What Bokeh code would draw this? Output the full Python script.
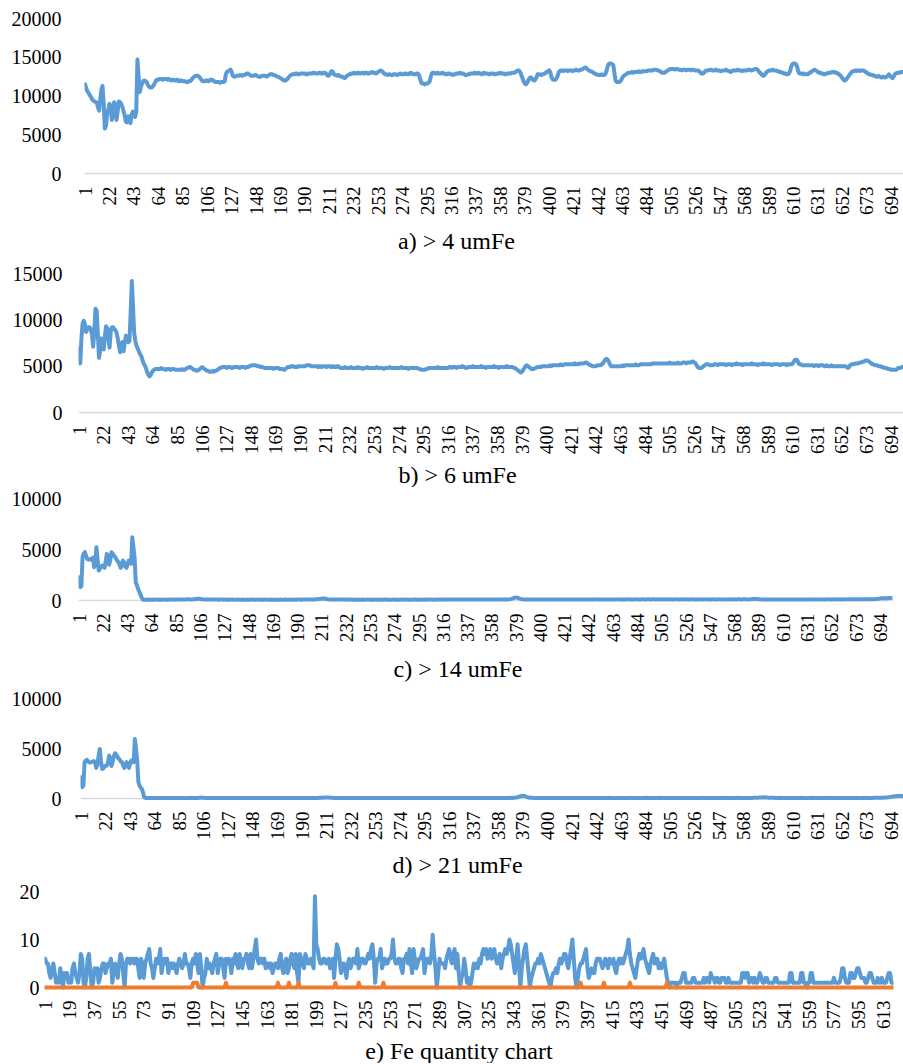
import math
from bokeh.plotting import figure
from bokeh.layouts import column
from bokeh.models import FixedTicker, Range1d, Span, NumeralTickFormatter
from bokeh.core.properties import value
from bokeh.embed import file_html
from bokeh.resources import INLINE

# ---------------- data ----------------
# a) > 4 umFe  (values in hundreds)
a_hundreds = [
    115, 110, 106, 104, 101, 99, 96, 94, 93, 92,
    92, 86, 81, 95, 108, 113, 90, 58, 62, 78,
    82, 90, 86, 69, 78, 92, 85, 69, 80, 93,
    92, 90, 86, 81, 75, 67, 66, 74, 70, 65,
    76, 80, 75, 73, 80, 147, 125, 105, 112, 116,
    119, 120, 119, 118, 114, 112, 111, 111, 112, 114,
    117, 120, 121, 121, 122, 122, 122, 121, 122, 122,
    122, 121, 122, 121, 120, 121, 121, 120, 120, 121,
    120, 119, 120, 120, 119, 119, 119, 118, 118, 119,
    119, 120, 122, 124, 125, 126, 126, 126, 125, 123,
    121, 119, 119, 119, 120, 120, 119, 120, 121, 121,
    120, 119, 118, 118, 118, 118, 117, 118, 118, 118,
    119, 128, 131, 132, 133, 134, 131, 126, 125, 125,
    126, 126, 126, 127, 127, 126, 127, 127, 128, 129,
    129, 128, 127, 126, 126, 126, 127, 127, 126, 125,
    125, 125, 126, 126, 126, 126, 125, 126, 127, 128,
    128, 128, 127, 127, 126, 125, 125, 124, 123, 122,
    121, 120, 120, 121, 122, 124, 126, 127, 128, 128,
    128, 129, 129, 128, 128, 129, 129, 129, 129, 129,
    128, 128, 129, 129, 129, 129, 130, 130, 129, 129,
    129, 130, 130, 129, 129, 130, 130, 129, 127, 126,
    127, 130, 132, 131, 128, 127, 127, 126, 127, 126,
    125, 125, 124, 123, 124, 126, 127, 128, 128, 129,
    129, 130, 129, 129, 130, 130, 129, 129, 130, 130,
    129, 130, 130, 129, 129, 130, 130, 131, 130, 130,
    129, 130, 131, 132, 133, 132, 131, 129, 128, 128,
    127, 128, 128, 127, 127, 128, 128, 128, 127, 128,
    128, 129, 128, 128, 128, 129, 129, 128, 128, 129,
    130, 129, 128, 128, 128, 129, 129, 127, 122, 117,
    116, 116, 115, 116, 116, 117, 118, 124, 129, 130,
    130, 129, 129, 130, 129, 129, 129, 130, 129, 129,
    128, 128, 129, 129, 128, 128, 127, 128, 128, 129,
    129, 129, 130, 129, 129, 129, 128, 127, 127, 128,
    128, 129, 129, 129, 129, 130, 129, 129, 130, 129,
    129, 128, 129, 130, 129, 129, 129, 128, 128, 129,
    129, 129, 128, 128, 129, 129, 129, 130, 129, 129,
    129, 128, 128, 129, 129, 129, 129, 130, 130, 130,
    131, 132, 133, 133, 131, 127, 123, 119, 116, 115,
    117, 120, 123, 124, 123, 121, 120, 121, 124, 128,
    128, 128, 127, 128, 128, 129, 130, 131, 132, 133,
    130, 124, 121, 121, 121, 122, 125, 130, 132, 133,
    133, 132, 133, 133, 133, 132, 133, 133, 133, 132,
    133, 133, 134, 133, 133, 133, 134, 134, 135, 136,
    137, 136, 134, 133, 132, 132, 131, 130, 129, 128,
    128, 127, 127, 127, 128, 127, 127, 128, 131, 137,
    141, 142, 142, 141, 140, 130, 120, 118, 118, 118,
    119, 121, 124, 126, 127, 128, 129, 130, 130, 130,
    131, 130, 131, 131, 131, 131, 132, 131, 131, 132,
    132, 132, 132, 132, 133, 133, 133, 133, 133, 134,
    134, 134, 133, 133, 132, 131, 130, 130, 130, 131,
    132, 133, 134, 135, 135, 135, 135, 134, 135, 135,
    134, 134, 134, 133, 134, 134, 134, 133, 134, 134,
    134, 133, 134, 134, 133, 133, 133, 133, 132, 130,
    129, 129, 130, 132, 133, 133, 133, 134, 134, 133,
    133, 133, 134, 133, 133, 133, 132, 132, 133, 133,
    133, 134, 133, 132, 132, 131, 132, 133, 133, 133,
    133, 134, 133, 133, 133, 132, 133, 133, 133, 133,
    134, 134, 133, 133, 134, 134, 135, 135, 134, 132,
    130, 129, 127, 126, 127, 129, 131, 132, 133, 133,
    133, 134, 133, 133, 133, 132, 132, 131, 131, 130,
    130, 129, 129, 128, 128, 129, 132, 138, 141, 142,
    142, 141, 138, 132, 129, 129, 129, 128, 129, 128,
    128, 128, 129, 130, 131, 132, 133, 134, 133, 132,
    131, 130, 130, 129, 129, 128, 128, 129, 129, 130,
    130, 130, 131, 131, 131, 130, 130, 129, 128, 127,
    125, 123, 121, 120, 121, 123, 125, 127, 129, 131,
    132, 132, 133, 132, 133, 133, 132, 133, 133, 133,
    132, 131, 130, 129, 128, 128, 127, 127, 126, 126,
    125, 125, 126, 125, 124, 124, 125, 124, 124, 125,
    126, 128, 126, 124, 123, 125, 128, 129, 130, 130,
    130, 131, 131, 131,
]

# b) > 6 umFe  (values in hundreds)
b_hundreds = [
    69, 53, 80, 96, 99, 95, 87, 90, 92, 92,
    90, 84, 71, 88, 112, 110, 85, 59, 67, 80,
    72, 68, 82, 93, 91, 80, 70, 87, 92, 92,
    90, 89, 86, 80, 72, 65, 74, 76, 66, 75,
    83, 80, 76, 77, 108, 142, 115, 86, 77, 72,
    69, 66, 63, 61, 57, 53, 51, 48, 44, 41,
    39, 40, 43, 45, 46, 47, 47, 47, 47, 47,
    48, 47, 47, 47, 46, 47, 47, 47, 46, 47,
    47, 47, 46, 46, 46, 46, 46, 46, 47, 46,
    46, 47, 48, 48, 49, 49, 48, 47, 46, 46,
    45, 45, 46, 47, 48, 49, 48, 47, 46, 45,
    45, 44, 44, 44, 45, 44, 45, 45, 46, 47,
    48, 48, 49, 49, 49, 49, 48, 49, 49, 49,
    48, 48, 49, 49, 49, 49, 49, 48, 49, 49,
    49, 49, 48, 49, 49, 50, 50, 51, 51, 51,
    51, 51, 50, 50, 50, 49, 49, 49, 48, 48,
    48, 48, 48, 48, 48, 48, 47, 48, 48, 48,
    48, 47, 47, 47, 47, 46, 47, 48, 49, 49,
    49, 50, 50, 50, 49, 49, 49, 50, 50, 50,
    50, 50, 50, 50, 51, 51, 51, 51, 50, 50,
    50, 50, 50, 50, 49, 50, 50, 49, 50, 50,
    50, 49, 50, 50, 50, 49, 50, 50, 49, 49,
    50, 50, 49, 48, 48, 48, 48, 49, 48, 48,
    48, 48, 49, 48, 48, 48, 48, 48, 49, 48,
    48, 48, 47, 48, 48, 48, 49, 48, 48, 48,
    48, 48, 48, 48, 49, 48, 48, 48, 48, 48,
    47, 48, 48, 48, 48, 49, 48, 48, 48, 48,
    48, 48, 48, 48, 48, 49, 48, 48, 48, 48,
    48, 47, 48, 48, 48, 48, 48, 48, 48, 48,
    47, 47, 46, 46, 46, 46, 47, 47, 48, 48,
    48, 48, 48, 48, 48, 48, 49, 48, 48, 48,
    48, 48, 48, 48, 48, 48, 49, 49, 48, 49,
    49, 49, 48, 49, 49, 49, 49, 50, 49, 49,
    48, 48, 49, 49, 49, 49, 50, 49, 49, 49,
    49, 49, 49, 50, 49, 49, 49, 48, 49, 49,
    49, 49, 49, 49, 50, 49, 49, 49, 48, 49,
    49, 49, 49, 49, 49, 50, 49, 49, 49, 49,
    49, 48, 48, 47, 46, 45, 44, 43, 44, 46,
    48, 50, 51, 50, 49, 48, 47, 47, 47, 48,
    48, 49, 49, 49, 49, 50, 50, 50, 50, 50,
    50, 50, 51, 50, 51, 51, 51, 51, 51, 51,
    51, 52, 51, 51, 52, 52, 52, 52, 52, 52,
    52, 52, 52, 53, 52, 52, 52, 53, 53, 53,
    53, 53, 54, 54, 53, 52, 51, 51, 50, 50,
    50, 50, 51, 51, 51, 51, 52, 53, 55, 57,
    58, 57, 55, 52, 50, 50, 50, 50, 50, 50,
    50, 50, 50, 50, 51, 50, 51, 51, 51, 51,
    51, 51, 51, 51, 51, 52, 51, 51, 51, 52,
    52, 52, 52, 52, 52, 52, 52, 52, 52, 53,
    53, 53, 53, 53, 53, 53, 53, 53, 53, 53,
    53, 53, 53, 53, 54, 53, 53, 53, 53, 53,
    53, 54, 53, 53, 53, 54, 54, 54, 53, 54,
    54, 54, 54, 55, 55, 54, 53, 51, 49, 48,
    48, 48, 49, 50, 51, 52, 52, 52, 51, 51,
    51, 51, 52, 52, 52, 51, 52, 52, 52, 52,
    52, 52, 51, 52, 52, 52, 52, 51, 52, 52,
    52, 53, 52, 52, 52, 52, 51, 52, 52, 52,
    52, 52, 52, 52, 53, 52, 52, 52, 52, 51,
    52, 52, 52, 52, 53, 52, 52, 52, 52, 52,
    52, 51, 52, 52, 52, 52, 52, 52, 51, 52,
    52, 52, 52, 52, 51, 52, 52, 52, 52, 53,
    55, 57, 57, 56, 53, 52, 52, 51, 51, 51,
    51, 51, 51, 51, 51, 51, 51, 50, 51, 51,
    51, 50, 51, 51, 51, 51, 50, 50, 51, 50,
    50, 50, 51, 50, 50, 50, 50, 50, 50, 50,
    50, 50, 50, 50, 50, 49, 48, 49, 51, 52,
    52, 52, 53, 53, 53, 53, 54, 54, 54, 55,
    55, 56, 56, 56, 55, 54, 53, 52, 52, 51,
    51, 51, 50, 50, 50, 49, 49, 48, 48, 48,
    47, 47, 47, 46, 46, 46, 46, 46, 47, 48,
    48, 48, 49, 49,
]

# c) > 14 umFe  (values in tens)
c_tens = [
    229, 131, 140, 425, 460, 474, 440, 408, 400, 405,
    402, 410, 420, 327, 360, 523, 400, 294, 310, 330,
    343, 340, 320, 380, 457, 420, 350, 400, 474, 460,
    441, 430, 410, 390, 376, 350, 320, 360, 392, 370,
    330, 320, 360, 392, 370, 359, 621, 520, 425, 180,
    150, 114, 90, 60, 33, 10, 8, 7, 8, 9,
    8, 9, 8, 8, 9, 8, 9, 9, 8, 8, 9, 8, 8, 9, 9, 8, 8, 9, 8, 9,
    9, 9, 8, 9, 10, 9, 9, 10, 9, 10, 10, 9, 10, 11, 12, 12, 11, 10, 10, 11,
    12, 14, 16, 18, 17, 15, 12, 11, 10, 10, 9, 9, 10, 9, 9, 10, 10, 9, 9, 9,
    9, 8, 9, 9, 9, 8, 9, 9, 8, 9, 8, 8, 9, 9, 8, 8, 8, 9, 9, 8,
    8, 8, 9, 8, 8, 8, 9, 8, 8, 9, 9, 8, 8, 8, 9, 9, 8, 8, 9, 8,
    8, 9, 9, 8, 8, 8, 9, 8, 8, 8, 8, 9, 8, 8, 9, 8, 8, 8, 9, 9,
    8, 8, 9, 8, 8, 9, 9, 8, 8, 9, 9, 9, 8, 9, 9, 10, 9, 9, 10, 10,
    10, 9, 10, 11, 11, 12, 13, 14, 15, 17, 18, 20, 19, 17, 14, 12, 11, 10, 10, 9,
    9, 10, 9, 9, 10, 9, 9, 9, 10, 9, 9, 8, 9, 9, 9, 8, 9, 8, 8, 9,
    8, 8, 9, 8, 8, 9, 8, 8, 8, 9, 9, 8, 8, 9, 8, 8, 9, 9, 8, 8,
    9, 8, 8, 8, 9, 9, 8, 9, 8, 8, 8, 9, 9, 8, 8, 9, 8, 8, 9, 9,
    8, 8, 9, 9, 8, 9, 8, 8, 8, 9, 9, 9, 8, 8, 9, 8, 9, 9, 8, 8,
    9, 9, 8, 9, 9, 9, 8, 8, 9, 9, 8, 9, 9, 9, 10, 9, 9, 8, 9, 9,
    9, 10, 9, 9, 9, 10, 9, 9, 9, 9, 10, 9, 9, 10, 9, 9, 9, 10, 10, 9,
    9, 10, 9, 9, 10, 10, 9, 9, 10, 9, 9, 10, 10, 9, 10, 10, 9, 10, 10, 10,
    10, 9, 10, 10, 11, 10, 10, 11, 10, 9, 9, 10, 11, 13, 16, 20, 25, 28, 30, 28,
    24, 19, 15, 12, 11, 10, 10, 9, 10, 9, 10, 10, 9, 10, 10, 9, 10, 10, 10, 9,
    10, 10, 9, 10, 10, 10, 9, 10, 10, 10, 10, 9, 10, 10, 11, 10, 10, 10, 9, 10,
    10, 10, 10, 11, 10, 10, 10, 10, 11, 10, 10, 10, 11, 10, 10, 11, 11, 10, 10, 10,
    11, 10, 10, 11, 11, 10, 11, 11, 12, 11, 11, 10, 10, 11, 11, 11, 10, 11, 11, 11,
    11, 11, 10, 11, 11, 11, 12, 11, 11, 11, 10, 11, 11, 11, 11, 12, 11, 11, 11, 11,
    11, 11, 12, 11, 11, 11, 11, 12, 11, 11, 11, 11, 12, 12, 11, 11, 11, 12, 11, 11,
    12, 11, 11, 11, 12, 11, 11, 12, 11, 11, 11, 12, 11, 11, 11, 11, 12, 11, 11, 11,
    11, 12, 11, 11, 11, 12, 11, 11, 11, 11, 12, 11, 11, 11, 11, 11, 12, 11, 11, 11,
    11, 11, 12, 11, 11, 11, 11, 11, 12, 11, 11, 11, 11, 12, 11, 11, 11, 11, 11, 12,
    11, 11, 11, 12, 11, 11, 11, 12, 11, 11, 12, 12, 11, 11, 11, 12, 12, 12, 11, 11,
    11, 12, 13, 14, 15, 15, 14, 13, 12, 12, 11, 11, 10, 11, 11, 10, 11, 11, 10, 11,
    11, 11, 11, 10, 11, 11, 11, 11, 10, 11, 11, 11, 11, 11, 10, 11, 11, 11, 11, 11,
    11, 10, 11, 11, 11, 11, 11, 11, 11, 10, 11, 11, 11, 11, 11, 12, 11, 11, 11, 11,
    11, 11, 12, 11, 11, 11, 11, 11, 12, 11, 11, 11, 11, 12, 11, 11, 11, 12, 11, 11,
    11, 12, 11, 11, 12, 11, 12, 12, 11, 12, 12, 12, 11, 12, 12, 12, 12, 11, 12, 12,
    12, 12, 12, 13, 12, 12, 13, 13, 13, 14, 14, 16, 18, 20, 21, 22, 22, 21, 22, 23,
    24, 25, 24, 22,
]

# d) > 21 umFe  (values in tens)
d_tens = [
    213, 113, 130, 363, 380, 386, 370, 363, 360, 365,
    370, 375, 360, 306, 340, 430, 496, 380, 296, 300,
    320, 326, 330, 360, 430, 400, 326, 370, 420, 453,
    440, 420, 400, 390, 370, 363, 330, 306, 340, 363,
    330, 306, 350, 380, 370, 363, 596, 500, 380, 163,
    130, 110, 97, 60, 13, 6, 5, 5, 6, 5,
    5, 5, 6, 5, 5, 5, 6, 5, 5, 5, 6, 5, 5, 5, 5, 6, 5, 5, 5, 6,
    5, 5, 5, 6, 6, 5, 5, 6, 5, 6, 6, 5, 6, 6, 7, 6, 6, 6, 5, 6,
    6, 7, 8, 9, 8, 7, 6, 6, 5, 5, 5, 5, 6, 5, 5, 5, 6, 5, 5, 5,
    5, 5, 5, 5, 5, 4, 5, 5, 5, 5, 4, 5, 5, 5, 4, 5, 5, 5, 4, 5,
    5, 4, 5, 5, 4, 5, 5, 5, 5, 4, 5, 5, 5, 4, 5, 5, 5, 5, 4, 5,
    5, 5, 4, 5, 5, 5, 5, 4, 5, 5, 5, 5, 4, 5, 5, 5, 5, 5, 4, 5,
    5, 5, 5, 4, 5, 5, 5, 5, 5, 5, 5, 5, 5, 6, 5, 5, 6, 5, 5, 6,
    6, 6, 6, 6, 7, 7, 8, 8, 9, 9, 10, 10, 9, 8, 7, 7, 6, 6, 6, 5,
    5, 6, 5, 5, 6, 5, 5, 5, 5, 5, 5, 5, 5, 5, 5, 5, 5, 4, 5, 5,
    5, 5, 5, 4, 5, 5, 5, 5, 5, 5, 4, 5, 5, 5, 5, 5, 5, 5, 4, 5,
    5, 5, 5, 5, 5, 4, 5, 5, 5, 5, 5, 5, 5, 4, 5, 5, 5, 5, 5, 5,
    5, 5, 4, 5, 5, 5, 5, 5, 5, 5, 5, 5, 5, 5, 5, 4, 5, 5, 5, 5,
    5, 5, 5, 5, 5, 5, 5, 5, 5, 6, 5, 5, 5, 5, 5, 5, 5, 6, 5, 5,
    5, 5, 6, 5, 5, 5, 5, 5, 6, 5, 5, 5, 5, 6, 5, 5, 5, 5, 6, 5,
    5, 6, 5, 5, 5, 5, 6, 5, 5, 5, 6, 5, 5, 6, 5, 5, 6, 5, 6, 5,
    6, 5, 6, 6, 6, 6, 6, 7, 6, 6, 7, 8, 10, 12, 15, 19, 23, 26, 27, 25,
    21, 16, 12, 10, 8, 7, 7, 6, 6, 6, 6, 6, 6, 6, 5, 6, 6, 6, 6, 5,
    6, 6, 6, 5, 6, 6, 6, 6, 5, 6, 6, 6, 6, 5, 6, 6, 6, 6, 6, 6,
    6, 5, 6, 6, 6, 6, 6, 6, 6, 6, 6, 6, 6, 6, 6, 6, 6, 5, 6, 6,
    6, 6, 6, 6, 6, 6, 6, 6, 6, 6, 6, 6, 7, 6, 6, 6, 6, 6, 6, 6,
    6, 6, 6, 6, 6, 6, 6, 6, 6, 6, 6, 7, 6, 6, 6, 6, 6, 6, 6, 6,
    6, 6, 6, 6, 7, 6, 6, 6, 6, 6, 6, 6, 6, 6, 6, 6, 7, 6, 6, 6,
    6, 6, 6, 7, 6, 6, 6, 6, 6, 6, 6, 6, 6, 6, 6, 6, 6, 6, 6, 7,
    6, 6, 6, 6, 6, 6, 6, 6, 6, 6, 6, 7, 6, 6, 6, 6, 6, 6, 6, 6,
    6, 6, 6, 6, 6, 6, 6, 6, 6, 7, 6, 6, 6, 6, 6, 6, 6, 6, 6, 6,
    6, 6, 7, 6, 6, 6, 6, 6, 6, 6, 6, 6, 6, 6, 6, 7, 7, 7, 8, 8,
    9, 10, 10, 11, 12, 11, 10, 9, 8, 8, 7, 7, 7, 7, 6, 6, 6, 7, 6, 6,
    6, 6, 6, 6, 6, 6, 6, 6, 6, 6, 6, 6, 6, 6, 6, 6, 7, 6, 6, 6,
    6, 6, 6, 6, 6, 6, 7, 6, 6, 6, 6, 6, 6, 6, 6, 6, 6, 6, 7, 6,
    6, 6, 6, 6, 6, 6, 6, 6, 6, 7, 6, 6, 6, 6, 6, 6, 6, 6, 6, 6,
    6, 6, 6, 7, 6, 6, 6, 6, 6, 6, 7, 6, 6, 6, 6, 6, 6, 6, 7, 7,
    7, 7, 7, 7, 8, 8, 8, 9, 9, 10, 11, 13, 15, 17, 19, 21, 22, 23, 24, 25,
    26, 27, 26, 25,
]

# e) Fe quantity chart
e_blue = [
    6, 5, 5, 3, 2, 4, 5, 3, 1, 2, 1, 4, 2, 0, 3, 2, 3, 1, 2, 1,
    4, 5, 3, 2, 1, 3, 7, 6, 1, 0, 2, 6, 7, 3, 0, 1, 4, 3, 4, 1,
    2, 4, 5, 5, 3, 4, 5, 5, 6, 1, 3, 5, 4, 2, 5, 7, 6, 3, 0, 5,
    6, 6, 5, 6, 6, 5, 6, 6, 4, 2, 6, 5, 2, 5, 6, 7, 8, 5, 4, 2,
    4, 6, 5, 6, 8, 3, 5, 6, 5, 6, 3, 5, 5, 4, 5, 4, 3, 5, 6, 5,
    4, 5, 7, 5, 5, 4, 2, 5, 6, 5, 7, 5, 3, 7, 4, 0, 2, 3, 6, 4,
    5, 4, 3, 5, 6, 7, 3, 5, 6, 6, 4, 2, 6, 5, 6, 5, 3, 6, 5, 7,
    5, 4, 7, 5, 4, 6, 6, 7, 5, 4, 7, 4, 6, 8, 10, 6, 5, 6, 6, 5,
    6, 4, 5, 5, 4, 5, 3, 4, 5, 5, 4, 6, 7, 4, 3, 5, 6, 3, 4, 6,
    7, 5, 4, 7, 3, 1, 7, 6, 5, 4, 7, 6, 5, 5, 6, 5, 4, 19, 9, 8,
    6, 5, 5, 6, 6, 5, 5, 6, 4, 5, 6, 2, 6, 9, 8, 6, 3, 4, 5, 4,
    2, 5, 6, 4, 5, 6, 6, 5, 8, 4, 5, 6, 6, 5, 5, 6, 7, 6, 8, 9,
    6, 1, 5, 6, 6, 8, 4, 5, 6, 5, 5, 6, 6, 7, 10, 6, 5, 5, 6, 6,
    4, 3, 6, 6, 7, 5, 8, 5, 3, 8, 6, 4, 5, 6, 6, 7, 8, 3, 5, 6,
    6, 5, 7, 11, 7, 4, 0, 3, 6, 5, 5, 5, 4, 6, 7, 8, 6, 5, 7, 8,
    4, 7, 3, 0, 2, 3, 6, 4, 1, 2, 0, 1, 3, 5, 4, 5, 4, 6, 5, 7,
    8, 7, 8, 6, 7, 8, 6, 7, 8, 6, 5, 6, 7, 4, 6, 7, 8, 7, 8, 10,
    9, 7, 5, 3, 6, 9, 5, 0, 4, 6, 8, 9, 6, 3, 0, 2, 3, 4, 5, 5,
    6, 5, 7, 6, 5, 4, 3, 2, 1, 0, 2, 3, 3, 4, 3, 5, 6, 5, 6, 7,
    7, 5, 4, 6, 8, 10, 6, 2, 0, 2, 4, 5, 5, 6, 7, 8, 4, 2, 3, 4,
    3, 3, 5, 6, 6, 6, 5, 4, 5, 6, 5, 4, 6, 5, 5, 6, 4, 3, 5, 6,
    5, 6, 5, 6, 7, 8, 10, 7, 5, 4, 3, 2, 4, 6, 7, 6, 7, 8, 6, 5,
    4, 3, 5, 6, 7, 5, 6, 6, 4, 5, 4, 5, 6, 4, 2, 1, 0, 1, 1, 1,
    1, 0, 1, 1, 1, 2, 3, 3, 1, 1, 1, 1, 1, 2, 2, 1, 1, 1, 1, 1,
    1, 2, 1, 2, 2, 1, 3, 2, 2, 1, 2, 2, 1, 1, 2, 2, 2, 1, 1, 2,
    1, 1, 1, 1, 1, 1, 1, 1, 1, 3, 3, 2, 3, 3, 1, 2, 2, 1, 2, 1,
    1, 2, 3, 2, 1, 1, 2, 2, 1, 1, 1, 1, 1, 2, 2, 1, 1, 1, 1, 1,
    1, 1, 1, 1, 3, 3, 1, 1, 1, 1, 1, 1, 3, 3, 1, 1, 0, 1, 1, 3,
    3, 1, 1, 1, 1, 1, 1, 1, 1, 1, 1, 1, 1, 1, 1, 1, 2, 1, 1, 1,
    1, 2, 4, 4, 2, 1, 1, 1, 3, 3, 2, 2, 3, 4, 4, 3, 2, 2, 2, 1,
    1, 2, 3, 3, 2, 1, 1, 1, 2, 1, 1, 2, 1, 1, 1, 2, 3, 3, 1, 1,
]

e_orange = [
    0, 0, 0, 0, 0, 0, 0, 0, 0, 0, 0, 0, 0, 0, 0, 0, 0, 0, 0, 0,
    0, 0, 0, 0, 0, 0, 0, 0, 0, 0, 0, 0, 0, 0, 0, 0, 0, 0, 0, 0,
    0, 0, 0, 0, 0, 0, 0, 0, 0, 0, 0, 0, 0, 0, 0, 0, 0, 0, 0, 0,
    0, 0, 0, 0, 0, 0, 0, 0, 0, 0, 0, 0, 0, 0, 0, 0, 0, 0, 0, 0,
    0, 0, 0, 0, 0, 0, 0, 0, 0, 0, 0, 0, 0, 0, 0, 0, 0, 0, 0, 0,
    0, 0, 0, 0, 0, 0, 0, 0, 1, 1, 1, 1, 0, 0, 0, 0, 0, 0, 0, 0,
    0, 0, 0, 0, 0, 0, 0, 0, 0, 0, 0, 0, 1, 0, 0, 0, 0, 0, 0, 0,
    0, 0, 0, 0, 0, 0, 0, 0, 0, 0, 0, 0, 0, 0, 0, 0, 0, 0, 0, 0,
    0, 0, 0, 0, 0, 0, 0, 0, 0, 0, 1, 0, 0, 0, 0, 0, 0, 0, 1, 0,
    0, 0, 0, 0, 0, 1, 0, 0, 0, 0, 0, 0, 0, 0, 0, 0, 0, 0, 0, 0,
    0, 0, 0, 0, 0, 0, 0, 0, 0, 0, 0, 0, 1, 0, 0, 0, 0, 0, 0, 0,
    0, 0, 0, 0, 0, 0, 0, 0, 0, 1, 0, 0, 0, 0, 0, 0, 0, 0, 0, 0,
    0, 0, 0, 0, 0, 0, 0, 1, 0, 0, 0, 0, 0, 0, 0, 0, 0, 0, 0, 0,
    0, 0, 0, 0, 0, 0, 0, 0, 0, 0, 0, 0, 0, 0, 0, 0, 0, 0, 0, 0,
    0, 0, 0, 0, 0, 0, 0, 0, 0, 0, 0, 0, 0, 0, 0, 0, 0, 0, 0, 0,
    0, 0, 0, 0, 0, 0, 0, 0, 0, 0, 0, 0, 0, 0, 0, 0, 0, 0, 0, 0,
    0, 0, 0, 0, 0, 0, 0, 0, 0, 0, 0, 0, 0, 0, 0, 0, 0, 0, 0, 0,
    0, 0, 0, 0, 0, 0, 0, 0, 0, 0, 0, 0, 0, 0, 0, 0, 0, 0, 0, 0,
    0, 0, 0, 0, 0, 0, 0, 0, 0, 0, 0, 0, 0, 0, 0, 0, 0, 0, 0, 0,
    0, 0, 0, 0, 0, 0, 0, 0, 0, 0, 0, 1, 0, 0, 0, 0, 0, 0, 0, 0,
    0, 0, 0, 0, 0, 0, 0, 0, 1, 0, 0, 0, 0, 0, 0, 0, 0, 0, 0, 0,
    0, 0, 0, 0, 0, 0, 0, 1, 0, 0, 0, 0, 0, 0, 0, 0, 0, 0, 0, 0,
    0, 0, 0, 0, 0, 0, 0, 0, 0, 0, 0, 0, 0, 0, 1, 0, 0, 0, 0, 0,
    0, 0, 0, 0, 0, 0, 0, 0, 0, 0, 0, 0, 0, 0, 0, 0, 0, 0, 0, 0,
    0, 0, 0, 0, 0, 0, 0, 0, 0, 0, 0, 0, 0, 0, 0, 0, 0, 0, 0, 0,
    0, 0, 0, 0, 0, 0, 0, 0, 0, 0, 0, 0, 0, 0, 0, 0, 0, 0, 0, 0,
    0, 0, 0, 0, 0, 0, 0, 0, 0, 0, 0, 0, 0, 0, 0, 0, 0, 0, 0, 0,
    0, 0, 0, 0, 0, 0, 0, 0, 0, 0, 0, 0, 0, 0, 0, 0, 0, 0, 0, 0,
    0, 0, 0, 0, 0, 0, 0, 0, 0, 0, 0, 0, 0, 0, 0, 0, 0, 0, 0, 0,
    0, 0, 0, 0, 0, 0, 0, 0, 0, 0, 0, 0, 0, 0, 0, 0, 0, 0, 0, 0,
    0, 0, 0, 0, 0, 0, 0, 0, 0, 0, 0, 0, 0, 0, 0, 0, 0, 0, 0, 0,
]

xticks_abcd = [1, 22, 43, 64, 85, 106, 127, 148, 169, 190, 211, 232, 253, 274,
               295, 316, 337, 358, 379, 400, 421, 442, 463, 484, 505, 526, 547,
               568, 589, 610, 631, 652, 673, 694]
xticks_e = [1, 19, 37, 55, 73, 91, 109, 127, 145, 163, 181, 199, 217, 235, 253,
            271, 289, 307, 325, 343, 361, 379, 397, 415, 433, 451, 469, 487,
            505, 523, 541, 559, 577, 595, 613]
yticks_a = [0, 5000, 10000, 15000, 20000]
yticks_b = [0, 5000, 10000, 15000]
yticks_cd = [0, 5000, 10000]
yticks_e = [0, 10, 20]
captions = ["a) > 4 umFe", "b) > 6 umFe", "c) > 14 umFe", "d) > 21 umFe",
            "e) Fe quantity chart"]

series_a = [v * 100 for v in a_hundreds]
series_b = [v * 100 for v in b_hundreds]
series_c = [v * 10 for v in c_tens]
series_d = [v * 10 for v in d_tens]

# ---------------- style ----------------
BLUE = "#5B9BD5"
ORANGE = "#ED7D31"
FONT = "Liberation Serif"
W = 903


def panel(series, colors, ymax, yticks, xticks, left, right, height,
          top, zero_px, y_standoff):
    n = len(series[0])
    frame_bottom = zero_px + 3
    pad = ymax * 3.0 / (zero_px - top)
    p = figure(width=W, height=height, output_backend="svg",
               toolbar_location=None,
               x_range=Range1d(0.5, n + 0.5), y_range=Range1d(-pad, ymax),
               min_border_left=left, min_border_right=right,
               min_border_top=top, min_border_bottom=height - frame_bottom)
    p.frame_align = False
    p.outline_line_color = None
    p.background_fill_color = "white"
    p.border_fill_color = "white"
    p.xgrid.visible = False
    p.ygrid.visible = False

    p.add_layout(Span(location=0, dimension="width", line_color="#D9D9D9",
                      line_width=1.5, level="underlay"))
    xs = list(range(1, n + 1))
    for ys, col in zip(series, colors):
        p.line(xs, ys, line_color=col, line_width=4,
               line_join="round", line_cap="round")

    xa = p.xaxis[0]
    xa.ticker = FixedTicker(ticks=xticks)
    xa.axis_line_color = None
    xa.major_tick_line_color = None
    xa.minor_tick_line_color = None
    xa.major_tick_out = 0
    xa.major_tick_in = 0
    xa.major_label_orientation = math.pi / 2
    xa.major_label_standoff = 10
    xa.major_label_text_font = FONT
    xa.major_label_text_font_size = "19px"
    xa.major_label_text_color = "#000000"

    ya = p.yaxis[0]
    ya.ticker = FixedTicker(ticks=yticks)
    ya.formatter = NumeralTickFormatter(format="0")
    ya.axis_line_color = None
    ya.major_tick_line_color = None
    ya.minor_tick_line_color = None
    ya.major_tick_out = 0
    ya.major_tick_in = 0
    ya.major_label_standoff = y_standoff
    ya.major_label_text_font = FONT
    ya.major_label_text_font_size = "20px"
    ya.major_label_text_color = "#000000"
    return p


def caption_row(text, height, text_y, center_x):
    c = figure(width=W, height=height, output_backend="svg",
               toolbar_location=None,
               x_range=Range1d(0, W), y_range=Range1d(0, height),
               x_axis_type=None, y_axis_type=None, min_border=0)
    c.frame_align = False
    c.outline_line_color = None
    c.xgrid.visible = False
    c.ygrid.visible = False
    c.text(x=[center_x], y=[text_y], text=[text], text_align="center",
           text_baseline="middle", text_font=value(FONT),
           text_font_size=value("24px"), text_color="#000000")
    return c


# page rows (px): a 0-220 | cap 220-257 | b 257-457 | cap 457-487 | c 487-647 |
#                 cap 647-684 | d 684-845 | cap 845-879 | e 879-1034 | cap 1034-1063
pa = panel([series_a], [BLUE], 20000, yticks_a, xticks_abcd,
           84, 0, 220, 18, 173, 23)
ca = caption_row(captions[0], 37, 17, 456)
pb = panel([series_b], [BLUE], 15000, yticks_b, xticks_abcd,
           78, 0, 200, 16, 155, 16)
cb = caption_row(captions[1], 30, 13, 457)
pc = panel([series_c], [BLUE], 10000, yticks_cd, xticks_abcd,
           78, 11, 160, 11, 113, 17)
cc = caption_row(captions[2], 37, 16, 457.5)
pd = panel([series_d], [BLUE], 10000, yticks_cd, xticks_abcd,
           80, 0, 161, 14, 114, 19)
cd = caption_row(captions[3], 34, 15, 457)
pe = panel([e_blue, e_orange], [BLUE, ORANGE], 20, yticks_e, xticks_e,
           44, 10, 155, 12, 108, 5)
ce = caption_row(captions[4], 29, 13, 458.5)

layout = column(pa, ca, pb, cb, pc, cc, pd, cd, pe, ce, spacing=0)
open("out.html", "w").write(file_html(layout, INLINE))
